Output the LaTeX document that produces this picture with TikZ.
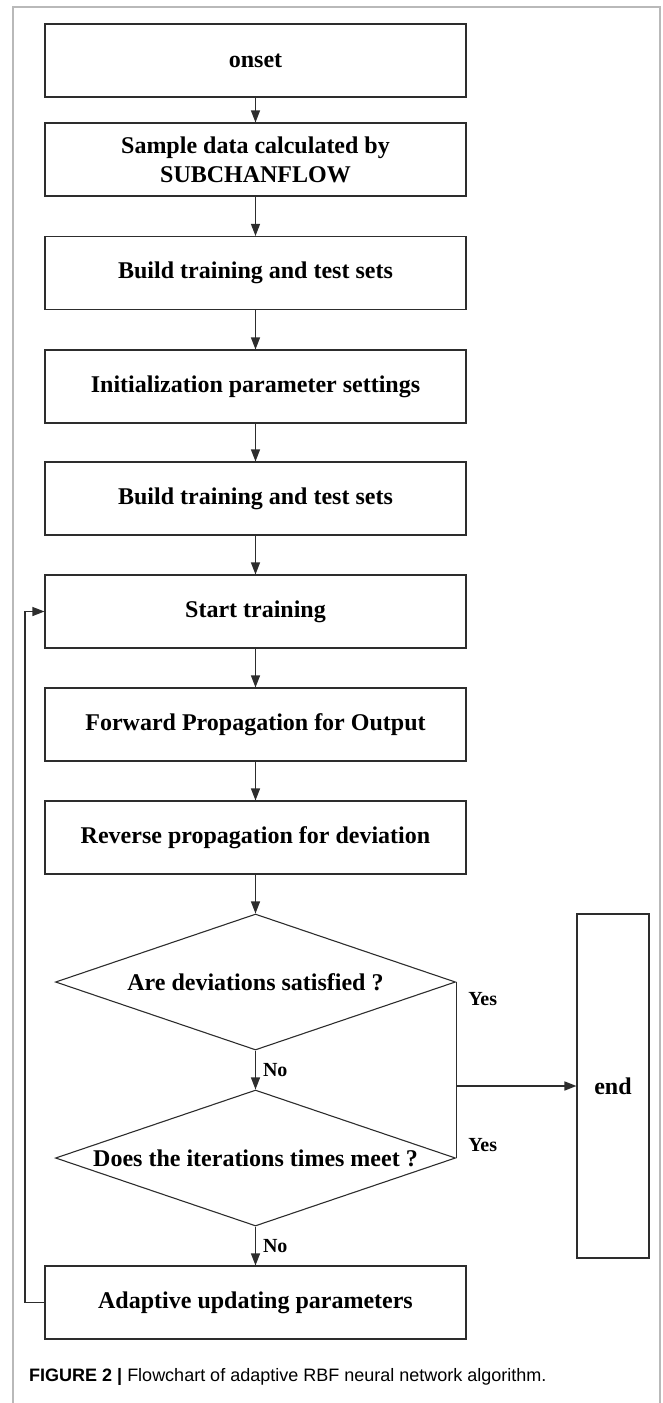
\documentclass[tikz,border=0pt]{standalone}
\usepackage{fontspec}
\setmainfont{Liberation Serif}
\setsansfont{Liberation Sans}
\usetikzlibrary{arrows.meta,shapes.geometric,positioning}

\begin{document}
\begin{tikzpicture}[
  x=1pt, y=-1pt,
  every node/.style={font=\fontsize{24}{29}\selectfont\bfseries},
  stepbox/.style={draw=linegray, line width=1.1pt, minimum width=421pt,
    minimum height=73pt, align=center, inner sep=0pt},
  decision/.style={draw=linegray, line width=1.1pt, diamond, shape aspect=2.94,
    minimum width=400pt, minimum height=136pt, inner sep=0pt},
  flow/.style={draw=linegray, line width=1.1pt, -{Triangle[length=12pt,width=9pt]}},
  answer/.style={font=\fontsize{20}{24}\selectfont\bfseries, inner sep=2pt},
]

\definecolor{linegray}{RGB}{45,45,45}
\definecolor{framegray}{RGB}{185,185,185}

\useasboundingbox (0,0) rectangle (663,1403);

% ============================================================
% LAYOUT
% ============================================================
\def\midx{255.5}   % centre of the main column
\def\loopx{25}     % x of the feedback line

% outer frame (open at the bottom)
\draw[framegray, line width=2pt] (13,1403) -- (13,7) -- (660,7) -- (660,1403);

% ============================================================
% MAIN COLUMN
% ============================================================
\foreach \name/\yy/\lbl in {
  onset/60.5/onset,
  sample/159.5/{Sample data calculated by\\SUBCHANFLOW},
  build/273/Build training and test sets,
  init/386.5/Initialization parameter settings,
  sets/498.5/Build training and test sets,
  start/611.5/Start training,
  forward/724.5/Forward Propagation for Output,
  reverse/837.5/Reverse propagation for deviation}{
  \node[stepbox] (\name) at (\midx,\yy) {\lbl};
}

\foreach \a/\b in {onset/sample, sample/build, build/init, init/sets,
  sets/start, start/forward, forward/reverse}{
  \draw[flow] (\a) -- (\b);
}

% decisions
\node[decision] (devok) at (\midx,982) {Are deviations satisfied ?};
\node[decision] (iterok) at (\midx,1158) {Does the iterations times meet ?};
\node[stepbox] (adapt) at (\midx,1302.5) {Adaptive updating parameters};

\draw[flow] (reverse) -- (devok);
\draw[flow] (devok) -- node[answer, right, xshift=5pt] (no1) {No} (iterok);
\draw[flow] (iterok) -- node[answer, right, xshift=5pt] (no2) {No} (adapt);

% feedback to training
\draw[flow] (adapt.west) -- (\loopx,1302.5) |- (start.west);

% ============================================================
% END BRANCH
% ============================================================
\node[draw=linegray, line width=1.1pt, minimum width=72pt, minimum height=344pt,
  inner sep=0pt] (finish) at (613,1086) {end};

\draw[linegray, line width=1.1pt] (devok.east) -- (iterok.east);
\draw[flow, line width=1.6pt] (devok.east |- finish.west) -- (finish.west);

\node[answer, anchor=west] (yes1) at ([xshift=10pt, yshift=-17pt]devok.east) {Yes};
\node[answer, anchor=west] (yes2) at ([xshift=10pt, yshift=13pt]iterok.east) {Yes};

% ============================================================
% CAPTION
% ============================================================
\node[anchor=west, inner sep=0pt, font=\sffamily\fontsize{18}{22}\selectfont]
  (caption) at (29,1377)
  {\textbf{FIGURE 2 |} Flowchart of adaptive RBF neural network algorithm.};

\end{tikzpicture}
\end{document}
